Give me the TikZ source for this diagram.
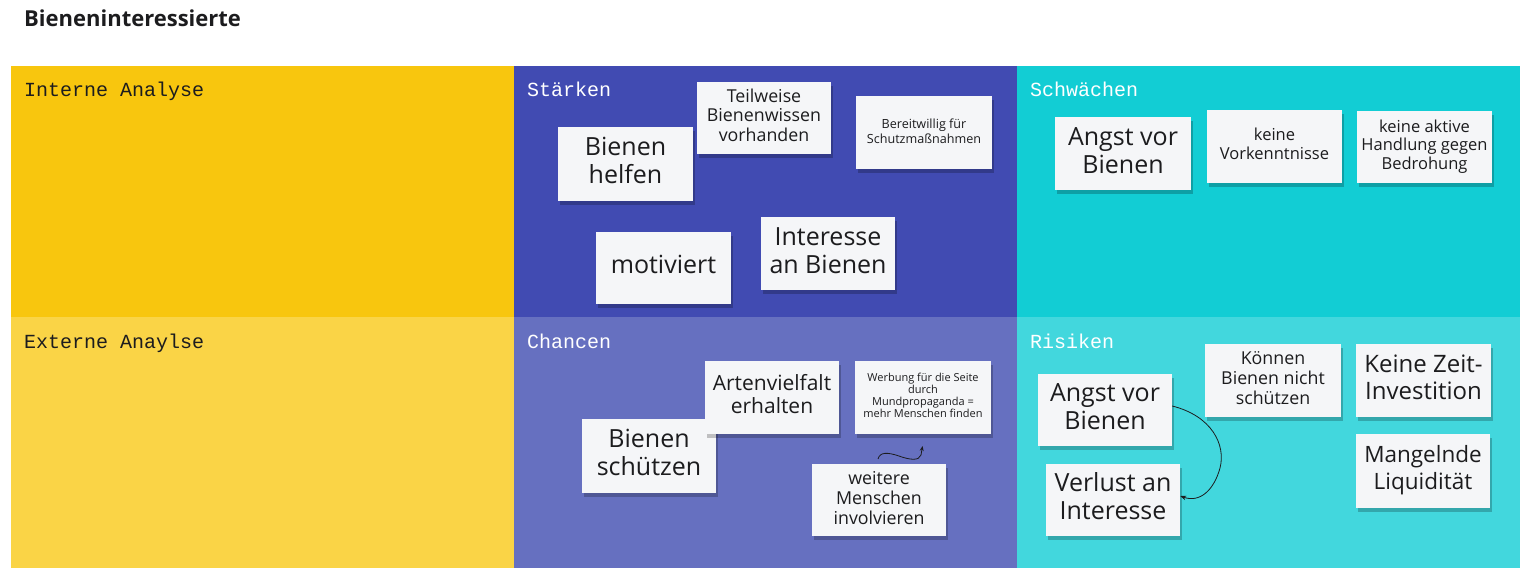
\documentclass[tikz,border=0pt]{standalone}
\usepackage{fontspec}
\setmainfont{Open Sans}
\newfontfamily\monof{Liberation Mono}
\usetikzlibrary{shadows,arrows.meta}
\definecolor{cYellow}{RGB}{248,198,14}
\definecolor{cYellowL}{RGB}{250,212,70}
\definecolor{cBlue}{RGB}{65,75,178}
\definecolor{cBlueL}{RGB}{102,112,192}
\definecolor{cCyan}{RGB}{18,205,212}
\definecolor{cCyanL}{RGB}{66,215,221}
\definecolor{noteFill}{RGB}{245,246,248}
\definecolor{inkDark}{RGB}{28,28,30}
\newcommand\notetxt[1]{\begin{tabular}{@{}c@{}}#1\end{tabular}}
\tikzset{
  quad/.style={draw=none, inner sep=0pt, minimum width=503pt, minimum height=251pt, anchor=north west},
  hdr/.style={anchor=base west, inner sep=0pt, font=\monof\fontsize{20}{22}\selectfont},
  note/.style={fill=noteFill, text=inkDark, inner sep=0pt,
    drop shadow={shadow xshift=1.5pt, shadow yshift=-4pt, opacity=0.22, fill=black}},
  fXL/.style={font=\fontsize{25}{28}\selectfont},
  fXLb/.style={font=\fontsize{24}{27.5}\selectfont},
  fXLc/.style={font=\fontsize{22.5}{27}\selectfont},
  fL/.style={font=\fontsize{21}{23}\selectfont},
  fM/.style={font=\fontsize{17.8}{20}\selectfont},
  fMs/.style={font=\fontsize{16.5}{18.5}\selectfont},
  fS/.style={font=\fontsize{12.6}{15}\selectfont},
  fXS/.style={font=\fontsize{11}{12}\selectfont},
  conn/.style={draw=inkDark, line width=0.8pt, -{Stealth[length=6pt,width=4.5pt]}}
}
\begin{document}
\begin{tikzpicture}[x=1pt,y=-1pt]
\useasboundingbox[fill=white] (0,0) rectangle (1534,583);
% title
\node[anchor=base west, inner sep=0pt, font=\bfseries\fontsize{22}{26}\selectfont, text=inkDark] (title) at (24,27) {Bieneninteressierte};
% quadrants
\node[quad, fill=cYellow]  (q1) at (11,66) {};
\node[quad, fill=cBlue]    (q2) at (514,66) {};
\node[quad, fill=cCyan]    (q3) at (1017,66) {};
\node[quad, fill=cYellowL] (q4) at (11,317) {};
\node[quad, fill=cBlueL]   (q5) at (514,317) {};
\node[quad, fill=cCyanL]   (q6) at (1017,317) {};
% headers
\node[hdr, text=inkDark] (h1) at (24,97) {Interne Analyse};
\node[hdr, text=white]   (h2) at (527,97) {Stärken};
\node[hdr, text=white]   (h3) at (1030,97) {Schwächen};
\node[hdr, text=inkDark] (h4) at (24,348) {Externe Anaylse};
\node[hdr, text=white]   (h5) at (527,348) {Chancen};
\node[hdr, text=white]   (h6) at (1030,348) {Risiken};
% Stärken
\node[note, fXL, minimum width=135pt, minimum height=74pt] (s1) at (625.5,164) {\notetxt{Bienen\\helfen}};
\node[note, fM, minimum width=134pt, minimum height=72pt] (s2) at (764,118) {\notetxt{Teilweise\\Bienenwissen\\vorhanden}};
\node[note, fS, minimum width=136pt, minimum height=73pt] (s3) at (924,132.5) {\notetxt{Bereitwillig für\\Schutzmaßnahmen}};
\node[note, fXL, minimum width=135pt, minimum height=72pt] (s4) at (663.5,268) {\notetxt{motiviert}};
\node[note, fXL, minimum width=134pt, minimum height=73pt] (s5) at (828,253.5) {\notetxt{Interesse\\an Bienen}};
% Schwächen
\node[note, fXL, minimum width=136pt, minimum height=73pt] (w1) at (1123,153.5) {\notetxt{Angst vor\\Bienen}};
\node[note, fMs, minimum width=135pt, minimum height=73pt] (w2) at (1274.5,146.5) {\notetxt{keine\\Vorkenntnisse}};
\node[note, fMs, minimum width=135pt, minimum height=72pt] (w3) at (1424.5,147) {\notetxt{keine aktive\\Handlung gegen\\Bedrohung}};
% Chancen
\node[note, fXL, minimum width=134pt, minimum height=74pt] (c1) at (649,456) {\notetxt{Bienen\\schützen}};
\node[note, fL, minimum width=134pt, minimum height=73pt] (c2) at (772,397.5) {\notetxt{Artenvielfalt\\erhalten}};
\node[note, fXS, minimum width=136pt, minimum height=73pt] (c3) at (923,397.5) {\notetxt{Werbung für die Seite\\durch\\Mundpropaganda =\\mehr Menschen finden}};
\node[note, fM, minimum width=134pt, minimum height=72pt] (c4) at (879,500) {\notetxt{weitere\\Menschen\\involvieren}};
% Risiken
\node[note, fXL, minimum width=134pt, minimum height=72pt] (r1) at (1105,410) {\notetxt{Angst vor\\Bienen}};
\node[note, fM, minimum width=136pt, minimum height=73pt] (r2) at (1273,380.5) {\notetxt{Können\\Bienen nicht\\schützen}};
\node[note, fXLb, minimum width=135pt, minimum height=73pt] (r3) at (1423.5,380.5) {\notetxt{Keine Zeit-\\Investition}};
\node[note, fXLc, minimum width=134pt, minimum height=74pt] (r4) at (1423,471) {\notetxt{Mangelnde\\Liquidität}};
\node[note, fXL, minimum width=134pt, minimum height=72pt] (r5) at (1113,500) {\notetxt{Verlust an\\Interesse}};
% connectors
\coordinate (wa) at (878,459);
\coordinate (wb) at (922.5,446);
\draw[conn, -{Stealth[length=5pt,width=4pt]}] (wa) .. controls (880,452) and (887,452) .. (899,456)
   .. controls (910,460) and (919,461) .. (921,455) -- (wb);
\draw[conn] ([yshift=4pt]r1.east) .. controls (1212,416) and (1226,445) .. (1220,468)
   .. controls (1214,490) and (1200,503) .. ([yshift=4pt]r5.east);
\end{tikzpicture}
\end{document}
